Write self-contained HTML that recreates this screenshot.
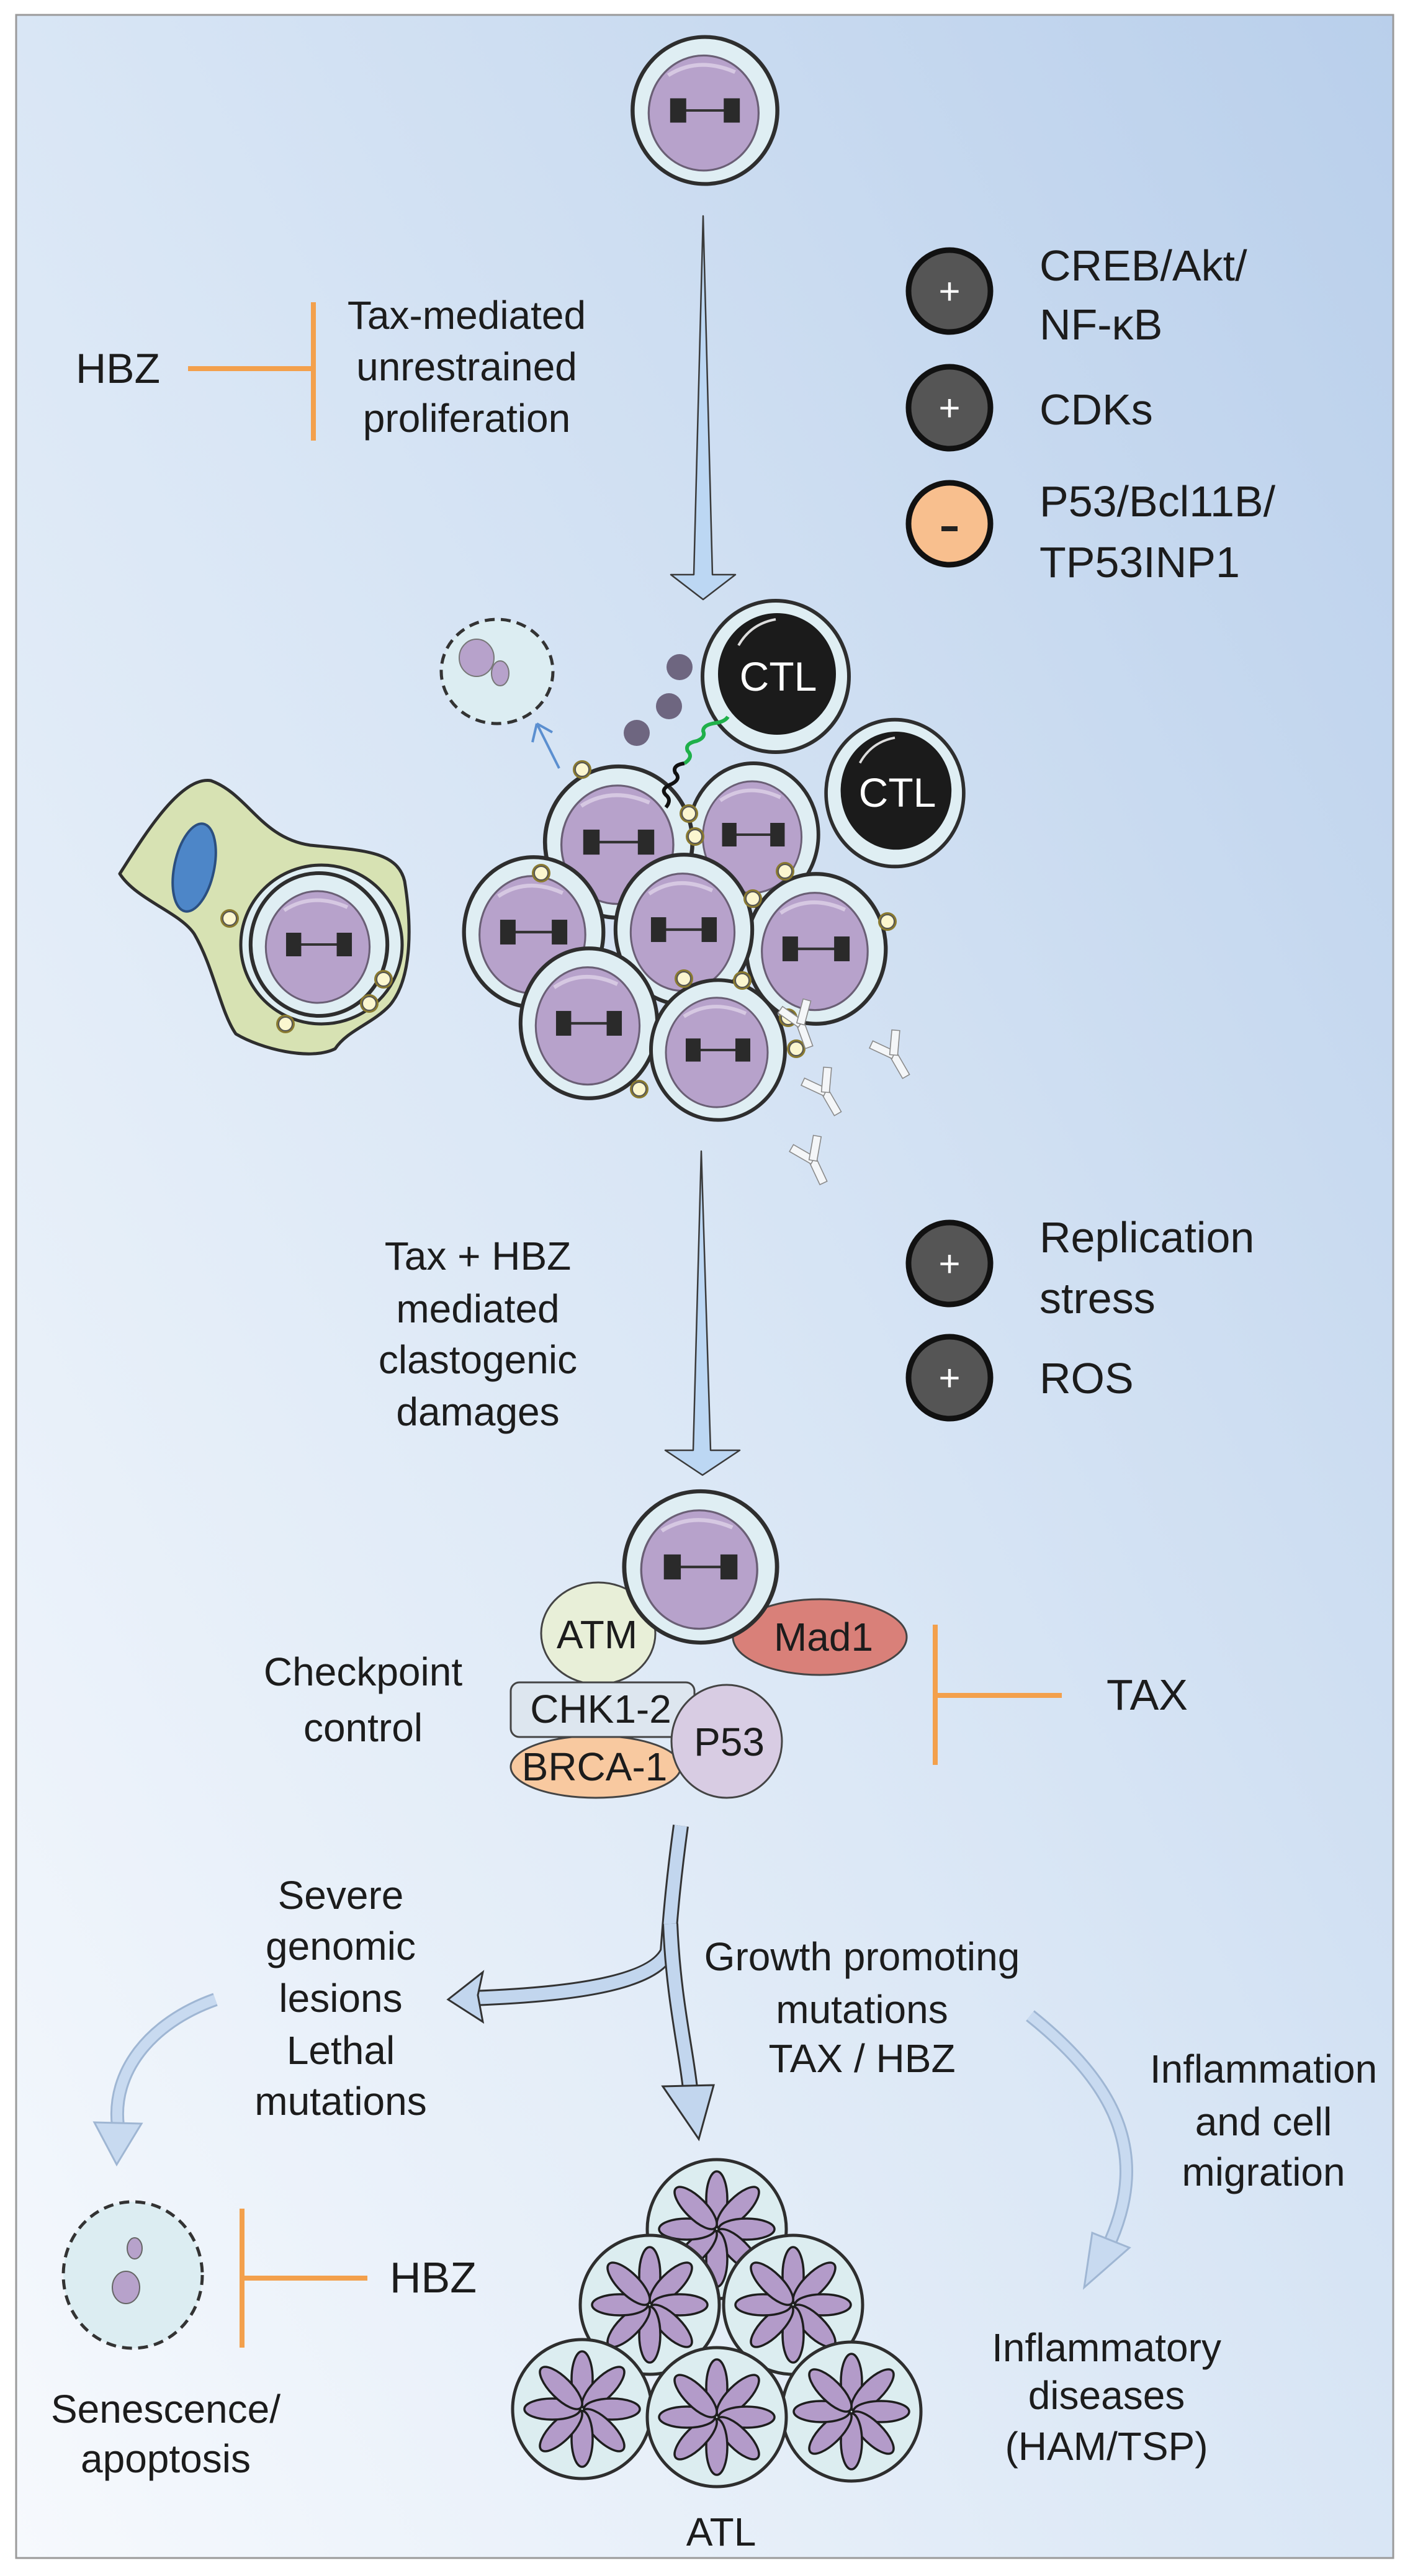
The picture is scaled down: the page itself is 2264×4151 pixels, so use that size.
<!DOCTYPE html>
<html><head><meta charset="utf-8"><style>
html,body{margin:0;padding:0;background:#fff}
svg{display:block}
text{font-family:"Liberation Sans Narrow","Liberation Sans",sans-serif;fill:#1c1c1c}
</style></head><body>
<svg width="2264" height="4151" viewBox="0 0 2264 4151" xmlns="http://www.w3.org/2000/svg">
<defs>
<linearGradient id="bg" x1="0" y1="1" x2="1" y2="0">
<stop offset="0" stop-color="#f6f9fd"/><stop offset="0.5" stop-color="#d9e6f5"/><stop offset="1" stop-color="#b9cfeb"/>
</linearGradient>
<g id="cell">
<ellipse cx="0" cy="0" rx="108" ry="115" fill="#dfeef3" stroke="#2e2e2e" stroke-width="6"/>
<ellipse cx="-2" cy="4" rx="82" ry="90" fill="#b7a2cb" stroke="#6a5f75" stroke-width="3"/>
<path d="M-55,-55 Q-10,-85 45,-60" stroke="#d6c8e2" stroke-width="6" fill="none"/>
<line x1="-30" y1="0" x2="30" y2="0" stroke="#333" stroke-width="4"/>
<rect x="-52" y="-19" width="24" height="38" fill="#2a2a2a"/>
<rect x="28" y="-19" width="24" height="38" fill="#2a2a2a"/>
</g>
<g id="ctl">
<ellipse cx="0" cy="0" rx="118" ry="122" fill="#dfeef3" stroke="#2e2e2e" stroke-width="6"/>
<ellipse cx="2" cy="-4" rx="95" ry="98" fill="#1b1b1b"/>
<path d="M-60,-50 Q-40,-85 0,-92" stroke="#ddd" stroke-width="4" fill="none"/>
</g>
<g id="star">
<circle r="15" fill="#8a7a30"/><circle r="11" fill="#fbf6cf" stroke="#555" stroke-width="2"/>
</g>
<g id="petal"><ellipse cx="0" cy="-48" rx="17" ry="45" fill="#b39bc9" stroke="#1e1e1e" stroke-width="3.5"/></g>
<g id="flower">
<ellipse cx="0" cy="0" rx="112" ry="112" fill="#dcedf0" stroke="#2e2e2e" stroke-width="5"/>
<use href="#petal" transform="rotate(0)"/><use href="#petal" transform="rotate(45)"/><use href="#petal" transform="rotate(90)"/><use href="#petal" transform="rotate(135)"/><use href="#petal" transform="rotate(180)"/><use href="#petal" transform="rotate(225)"/><use href="#petal" transform="rotate(270)"/><use href="#petal" transform="rotate(315)"/>
</g>
<g id="ab" fill="none" stroke="#8a8a8a" stroke-width="2">
<rect x="-8" y="0" width="16" height="50" fill="#f4f6f8"/>
<rect x="-8" y="-50" width="16" height="50" fill="#f4f6f8" transform="rotate(-35)"/>
<rect x="-8" y="-50" width="16" height="50" fill="#f4f6f8" transform="rotate(35)"/>
</g>
</defs>

<rect x="0" y="0" width="2264" height="4151" fill="#fff"/>
<rect x="26" y="24" width="2219" height="4098" fill="url(#bg)" stroke="#9a9a9a" stroke-width="3"/>

<use href="#cell" transform="translate(1136,178) scale(1.08,1.03)"/>

<polygon points="1133,348 1148,926 1185,926 1133,966 1081,926 1118,926" fill="#bcd7f3" stroke="#3a3a3a" stroke-width="2.5" stroke-linejoin="round"/>

<text x="122" y="617" font-size="68">HBZ</text>
<line x1="303" y1="594" x2="505" y2="594" stroke="#f3a04c" stroke-width="8"/>
<line x1="505" y1="487" x2="505" y2="710" stroke="#f3a04c" stroke-width="8"/>
<g font-size="64" text-anchor="middle">
<text x="752" y="530">Tax-mediated</text>
<text x="752" y="613">unrestrained</text>
<text x="752" y="696">proliferation</text>
</g>

<g stroke="#111" stroke-width="9">
<circle cx="1530" cy="469" r="66" fill="#555"/>
<circle cx="1530" cy="657" r="66" fill="#555"/>
<circle cx="1530" cy="844" r="66" fill="#f8bf8e"/>
<circle cx="1530" cy="2036" r="66" fill="#555"/>
<circle cx="1530" cy="2220" r="66" fill="#555"/>
</g>
<g font-size="60" text-anchor="middle"><text x="1530" y="490" style="fill:#fff">+</text><text x="1530" y="678" style="fill:#fff">+</text><text x="1530" y="2057" style="fill:#fff">+</text><text x="1530" y="2241" style="fill:#fff">+</text></g>
<rect x="1517" y="848" width="26" height="8" fill="#222"/>
<g font-size="70">
<text x="1675" y="452">CREB/Akt/</text>
<text x="1675" y="547">NF-κB</text>
<text x="1675" y="684">CDKs</text>
<text x="1675" y="832">P53/Bcl11B/</text>
<text x="1675" y="930">TP53INP1</text>
<text x="1675" y="2018">Replication</text>
<text x="1675" y="2116">stress</text>
<text x="1675" y="2245">ROS</text>
</g>

<ellipse cx="801" cy="1082" rx="90" ry="84" fill="#dcedf2" stroke="#333" stroke-width="5" stroke-dasharray="16,10"/>
<ellipse cx="768" cy="1060" rx="28" ry="30" fill="#b7a2cb" stroke="#777" stroke-width="2"/>
<ellipse cx="806" cy="1085" rx="14" ry="20" fill="#b7a2cb" stroke="#777" stroke-width="2"/>
<path d="M901,1238 L865,1166 M865,1166 L858,1196 M865,1166 L890,1180" stroke="#5b8fd0" stroke-width="4" fill="none"/>

<circle cx="1095" cy="1075" r="21" fill="#6e6680"/>
<circle cx="1078" cy="1138" r="21" fill="#6e6680"/>
<circle cx="1026" cy="1181" r="21" fill="#6e6680"/>

<use href="#ctl" transform="translate(1250,1090)"/>
<use href="#ctl" transform="translate(1442,1278) scale(0.94,0.97)"/>
<text x="1254" y="1113" font-size="66" text-anchor="middle" style="fill:#fff">CTL</text>
<text x="1446" y="1300" font-size="66" text-anchor="middle" style="fill:#fff">CTL</text>

<path d="M193,1408 C230,1350 290,1250 340,1258 C400,1280 420,1350 500,1362 C580,1370 640,1370 652,1420 C665,1500 662,1580 628,1620 C600,1650 560,1660 540,1690 C500,1710 420,1690 380,1666 C355,1630 345,1560 313,1505 C290,1470 220,1450 193,1408 Z" fill="#d7e2b3" stroke="#2e2e2e" stroke-width="5" stroke-linejoin="round"/>
<ellipse cx="518" cy="1522" rx="130" ry="128" fill="#dfeef3" stroke="#2e2e2e" stroke-width="5"/>
<ellipse cx="313" cy="1398" rx="32" ry="72" transform="rotate(12 313 1398)" fill="#4d86c8" stroke="#2b4f80" stroke-width="4"/>
<use href="#cell" transform="translate(514,1522) scale(1.02,1.0)"/>
<use href="#star" transform="translate(370,1480)"/>
<use href="#star" transform="translate(618,1578)"/>
<use href="#star" transform="translate(595,1617)"/>
<use href="#star" transform="translate(460,1650)"/>

<use href="#cell" transform="translate(1214,1345) scale(0.97,1.0)"/>
<use href="#cell" transform="translate(997,1357) scale(1.1,1.06)"/>
<use href="#cell" transform="translate(860,1502) scale(1.04,1.05)"/>
<use href="#cell" transform="translate(1315,1529) scale(1.04,1.05)"/>
<use href="#cell" transform="translate(1102,1498) scale(1.02,1.05)"/>
<use href="#cell" transform="translate(949,1649) scale(1.02,1.05)"/>
<use href="#cell" transform="translate(1157,1692) scale(1.0,0.98)"/>
<use href="#star" transform="translate(938,1240)"/>
<use href="#star" transform="translate(1110,1311)"/>
<use href="#star" transform="translate(1120,1348)"/>
<use href="#star" transform="translate(872,1407)"/>
<use href="#star" transform="translate(1265,1404)"/>
<use href="#star" transform="translate(1213,1448)"/>
<use href="#star" transform="translate(1430,1485)"/>
<use href="#star" transform="translate(1102,1577)"/>
<use href="#star" transform="translate(1196,1580)"/>
<use href="#star" transform="translate(1270,1640)"/>
<use href="#star" transform="translate(1283,1690)"/>
<use href="#star" transform="translate(1030,1755)"/>
<path d="M1073,1301 q10,-12 0,-20 q-10,-10 10,-18 q15,-8 5,-18 q-5,-12 15,-15" stroke="#111" stroke-width="6" fill="none"/>
<path d="M1103,1230 q15,-10 5,-20 q-5,-12 15,-16 q15,-6 10,-16 q0,-10 20,-13 q15,-2 20,-10" stroke="#1fb04a" stroke-width="6" fill="none"/>
<use href="#ab" transform="translate(1290,1650) rotate(-20) scale(0.8)"/>
<use href="#ab" transform="translate(1330,1760) rotate(-30) scale(0.8)"/>
<use href="#ab" transform="translate(1440,1700) rotate(-30) scale(0.8)"/>
<use href="#ab" transform="translate(1310,1870) rotate(-25) scale(0.8)"/>

<polygon points="1130,1855 1145,2337 1192,2337 1132,2377 1072,2337 1117,2337" fill="#bcd7f3" stroke="#3a3a3a" stroke-width="2.5" stroke-linejoin="round"/>
<g font-size="64" text-anchor="middle">
<text x="770" y="2046">Tax + HBZ</text>
<text x="770" y="2131">mediated</text>
<text x="770" y="2213">clastogenic</text>
<text x="770" y="2297">damages</text>
</g>

<ellipse cx="964" cy="2632" rx="92" ry="82" fill="#e8efd8" stroke="#444" stroke-width="3"/>
<ellipse cx="1321" cy="2638" rx="140" ry="61" fill="#d98079" stroke="#444" stroke-width="3"/>
<use href="#cell" transform="translate(1129,2525) scale(1.14,1.06)"/>
<ellipse cx="960" cy="2847" rx="137" ry="50" fill="#f8c9a0" stroke="#444" stroke-width="3"/>
<rect x="823" y="2711" width="296" height="88" rx="14" fill="#dde6ef" stroke="#444" stroke-width="3"/>
<ellipse cx="1171" cy="2806" rx="89" ry="91" fill="#d8cce3" stroke="#444" stroke-width="3"/>
<g font-size="64" text-anchor="middle">
<text x="962" y="2656">ATM</text>
<text x="1327" y="2660">Mad1</text>
<text x="968" y="2776">CHK1-2</text>
<text x="958" y="2869">BRCA-1</text>
<text x="1175" y="2829">P53</text>
<text x="585" y="2716">Checkpoint</text>
<text x="585" y="2806">control</text>
</g>
<line x1="1507" y1="2618" x2="1507" y2="2844" stroke="#f3a04c" stroke-width="8"/>
<line x1="1507" y1="2732" x2="1711" y2="2732" stroke="#f3a04c" stroke-width="8"/>
<text x="1783" y="2755" font-size="70">TAX</text>

<path d="M1097,2942 C1085,3030 1080,3090 1076,3145 C1050,3200 900,3215 760,3220" stroke="#333" stroke-width="26" fill="none"/>
<path d="M1097,2942 C1085,3030 1080,3090 1076,3145 C1050,3200 900,3215 760,3220" stroke="#c2d6ee" stroke-width="20" fill="none"/>
<polygon points="722,3222 778,3178 770,3215 778,3258" fill="#c2d6ee" stroke="#333" stroke-width="3"/>
<path d="M1080,3100 C1085,3220 1105,3300 1112,3365" stroke="#333" stroke-width="26" fill="none"/>
<path d="M1080,3100 C1085,3220 1105,3300 1112,3365" stroke="#c2d6ee" stroke-width="20" fill="none"/>
<polygon points="1068,3362 1150,3360 1126,3447" fill="#c2d6ee" stroke="#333" stroke-width="3"/>
<path d="M347,3222 C240,3260 180,3340 190,3425" stroke="#9fb6d3" stroke-width="22" fill="none"/>
<path d="M347,3222 C240,3260 180,3340 190,3425" stroke="#c8daf0" stroke-width="16" fill="none"/>
<polygon points="152,3420 228,3422 188,3488" fill="#c8daf0" stroke="#9fb6d3" stroke-width="3"/>
<path d="M1660,3248 C1800,3360 1850,3470 1790,3610" stroke="#9fb6d3" stroke-width="22" fill="none"/>
<path d="M1660,3248 C1800,3360 1850,3470 1790,3610" stroke="#c8daf0" stroke-width="16" fill="none"/>
<polygon points="1760,3598 1820,3622 1747,3686" fill="#c8daf0" stroke="#9fb6d3" stroke-width="3"/>

<g font-size="64" text-anchor="middle">
<text x="549" y="3076">Severe</text>
<text x="549" y="3158">genomic</text>
<text x="549" y="3242">lesions</text>
<text x="549" y="3326">Lethal</text>
<text x="549" y="3408">mutations</text>
<text x="1389" y="3175">Growth promoting</text>
<text x="1389" y="3260">mutations</text>
<text x="1389" y="3339">TAX / HBZ</text>
<text x="2036" y="3356">Inflammation</text>
<text x="2036" y="3441">and cell</text>
<text x="2036" y="3522">migration</text>
<text x="1783" y="3805">Inflammatory</text>
<text x="1783" y="3882">diseases</text>
<text x="1783" y="3964">(HAM/TSP)</text>
<text x="267" y="3904">Senescence/</text>
<text x="267" y="3984">apoptosis</text>
<text x="1162" y="4102">ATL</text>
</g>

<ellipse cx="214" cy="3666" rx="112" ry="118" fill="#dcedf2" stroke="#333" stroke-width="5" stroke-dasharray="16,10"/>
<ellipse cx="217" cy="3623" rx="12" ry="17" fill="#b7a2cb" stroke="#666" stroke-width="2"/>
<ellipse cx="203" cy="3686" rx="22" ry="26" fill="#b7a2cb" stroke="#666" stroke-width="2"/>
<line x1="390" y1="3559" x2="390" y2="3783" stroke="#f3a04c" stroke-width="8"/>
<line x1="390" y1="3671" x2="592" y2="3671" stroke="#f3a04c" stroke-width="8"/>
<text x="628" y="3694" font-size="70">HBZ</text>

<use href="#flower" transform="translate(1155,3592)"/>
<use href="#flower" transform="translate(1047,3714)"/>
<use href="#flower" transform="translate(1278,3714)"/>
<use href="#flower" transform="translate(938,3882)"/>
<use href="#flower" transform="translate(1372,3886)"/>
<use href="#flower" transform="translate(1155,3895)"/>
</svg>
</body></html>
